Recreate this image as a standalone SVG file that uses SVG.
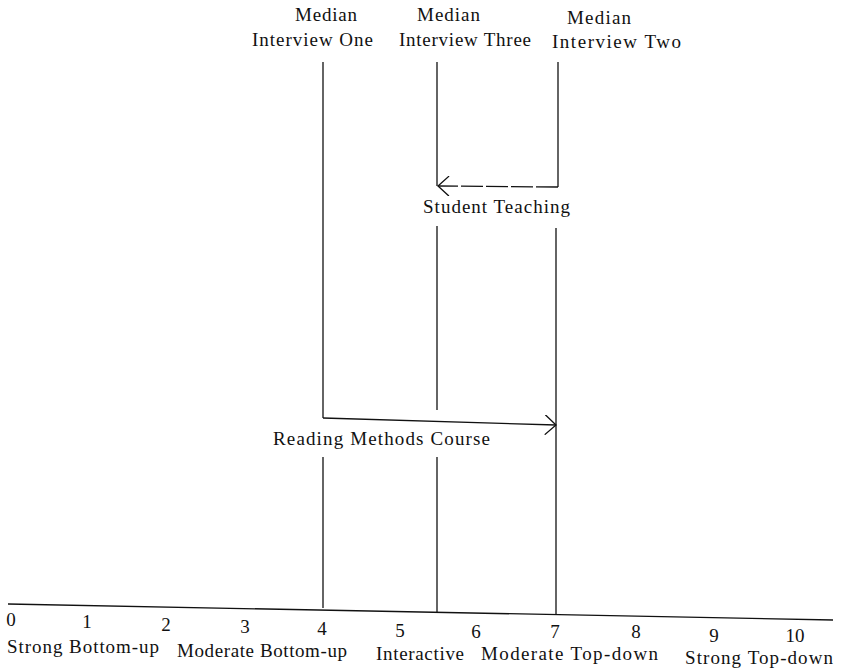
<svg xmlns="http://www.w3.org/2000/svg" width="842" height="671" viewBox="0 0 842 671">
<style>
text{font-family:"Liberation Serif","DejaVu Serif",serif;font-size:19px;fill:#111}
.c{text-anchor:middle}
line,path{stroke:#111;stroke-width:1.3;fill:none}
</style>
<defs>
<marker id="ah" viewBox="0 0 20 20" refX="18" refY="10" markerWidth="20" markerHeight="20" markerUnits="userSpaceOnUse" orient="auto">
<path d="M7,0 L18,10 L7,20" style="stroke:#111;stroke-width:1.3;fill:none"/>
</marker>
</defs>
<rect width="842" height="671" fill="#fff"/>
<g id="axis">
<line x1="8" y1="604" x2="833" y2="620"/>
<text x="11" y="626" class="c">0</text>
<text x="87" y="628" class="c">1</text>
<text x="166" y="631" class="c">2</text>
<text x="245" y="633" class="c">3</text>
<text x="322" y="635" class="c">4</text>
<text x="400" y="637" class="c">5</text>
<text x="476" y="638" class="c">6</text>
<text x="555" y="638" class="c">7</text>
<text x="636" y="638" class="c">8</text>
<text x="714" y="642" class="c">9</text>
<text x="795" y="642" class="c">10</text>
<text x="7" y="653" textLength="152">Strong Bottom-up</text>
<text x="177" y="657" textLength="170">Moderate Bottom-up</text>
<text x="376" y="660" textLength="88">Interactive</text>
<text x="481" y="660" textLength="177">Moderate Top-down</text>
<text x="685" y="664" textLength="148">Strong Top-down</text>
</g>
<g id="median-one">
<text x="295" y="21" textLength="62">Median</text>
<text x="252" y="46" textLength="121">Interview One</text>
</g>
<g id="median-three">
<text x="417" y="21" textLength="63">Median</text>
<text x="399" y="46" textLength="132">Interview Three</text>
</g>
<g id="median-two">
<text x="567" y="24" textLength="64">Median</text>
<text x="552" y="48" textLength="129">Interview Two</text>
</g>
<g id="student-teaching">
<text x="423" y="213" textLength="147">Student Teaching</text>
</g>
<g id="reading-methods">
<text x="273" y="445" textLength="217">Reading Methods Course</text>
</g>
<g id="connectors">
<line x1="323" y1="62" x2="323" y2="418"/>
<line x1="323" y1="457" x2="323" y2="608"/>
<line x1="437" y1="62" x2="437" y2="186"/>
<line x1="437" y1="226" x2="437" y2="410"/>
<line x1="437" y1="457" x2="437" y2="612"/>
<line x1="558" y1="62" x2="558" y2="187"/>
<line x1="556" y1="228" x2="556" y2="614"/>
<line x1="558" y1="187" x2="438" y2="186" stroke-dasharray="22,3" marker-end="url(#ah)"/>
<line x1="323" y1="418" x2="556" y2="425" marker-end="url(#ah)"/>
</g>
</svg>
